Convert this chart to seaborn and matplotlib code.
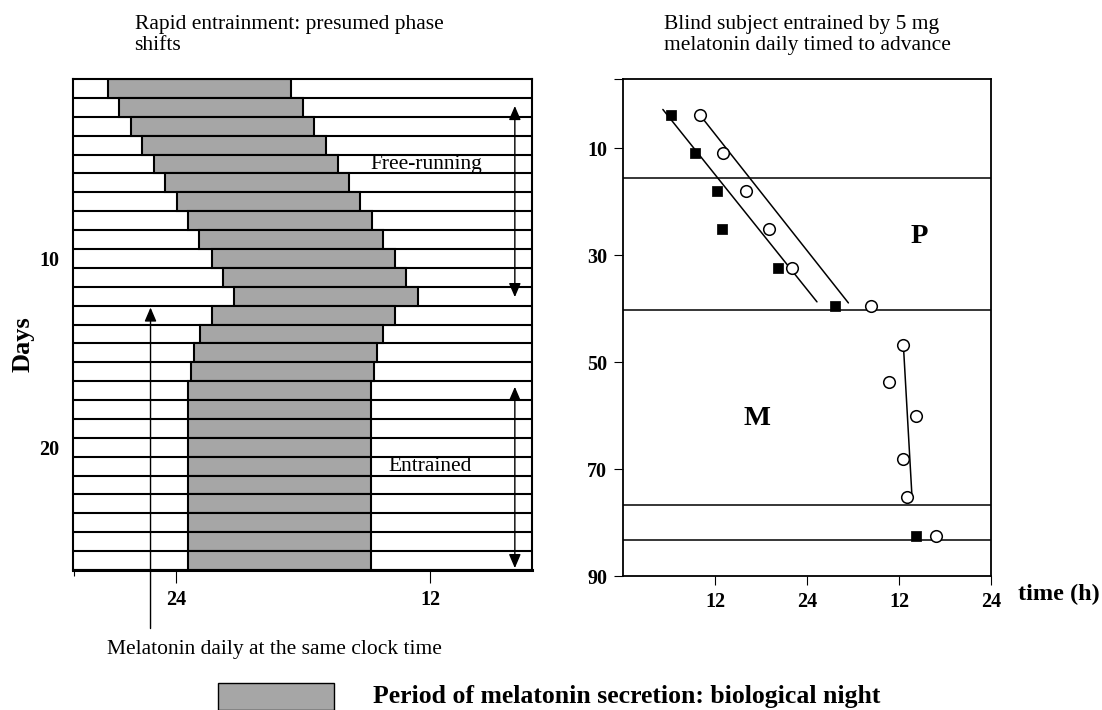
import numpy as np
import pandas as pd
import matplotlib.pyplot as plt
import seaborn as sns
from matplotlib.patches import Rectangle

sns.set_theme(style="white")
plt.rcParams['font.family'] = ['Liberation Serif', 'DejaVu Serif']
plt.rcParams['text.color'] = 'black'
plt.rcParams['axes.labelcolor'] = 'black'
plt.rcParams['xtick.color'] = 'black'
plt.rcParams['ytick.color'] = 'black'

# --- painel esquerdo: inicio/fim da secrecao de melatonina (hora do relogio) por dia
dias = list(range(1, 27))
inicio = [27.22, 26.67, 26.12, 25.58, 25.04, 24.50, 23.95, 23.42, 22.89, 22.31, 21.79, 21.25,
          22.31, 22.87, 23.16, 23.29, 23.45, 23.45, 23.45, 23.45, 23.45, 23.45, 23.45, 23.45,
          23.45, 23.45]
fim = [18.55, 18.00, 17.47, 16.93, 16.37, 15.83, 15.29, 14.74, 14.22, 13.66, 13.12, 12.58,
       13.68, 14.22, 14.49, 14.64, 14.80, 14.80, 14.80, 14.80, 14.80, 14.80, 14.80, 14.80,
       14.80, 14.80]
ticks_esq = [24, 12]
dias_rotulo = [10, 20]

# --- painel direito: sujeito cego
dia_quad = [3.8, 10.8, 18.0, 25.1, 32.4, 39.5, 82.6]
hora_quad = [6.2, 9.4, 12.3, 12.9, 20.2, 27.7, 38.2]
dia_circ = [3.8, 10.8, 18.0, 25.1, 32.4, 39.5, 46.7, 53.7, 60.0, 68.2, 75.3, 82.6]
hora_circ = [10.1, 13.1, 16.1, 19.0, 22.0, 32.3, 36.5, 34.7, 38.2, 36.5, 37.1, 40.8]
# retas ajustadas (extremos)
reta_quad = pd.DataFrame({"hora": [5.2, 25.3], "dia": [2.7, 38.7]})
reta_circ = pd.DataFrame({"hora": [10.4, 29.4], "dia": [4.4, 38.9]})
reta_m = pd.DataFrame({"hora": [36.6, 37.7], "dia": [47.5, 75.3]})
limites = [15.6, 40.2, 76.8, 83.3]
ticks_dir = [12, 24, 36, 48]
rotulos_dir = ["12", "24", "12", "24"]
ticks_dia = [10, 30, 50, 70, 90]

cinza = "#a6a6a6"
W, H = 1102, 710
fig = plt.figure(figsize=(W / 100, H / 100), dpi=100)

# ---------------- painel esquerdo
ax1 = fig.add_axes([73 / W, 1 - 570 / H, 459 / W, 491 / H])
ax1.set_xlim(28.86, 7.19)
ax1.set_ylim(26.5, 0.5)
for d in dias:
    ax1.axhline(d + 0.5, color="black", lw=1.5, zorder=1)
ax1.barh(dias, width=np.subtract(inicio, fim), left=fim, height=1.0,
         color=cinza, edgecolor="black", linewidth=1.5, zorder=2)
ax1.set_xticks(ticks_esq)
ax1.set_xticklabels([str(t) for t in ticks_esq], fontweight="bold", fontsize=14.5)
ax1.set_xticks([28.8], minor=True)
ax1.set_yticks(dias_rotulo)
ax1.set_yticklabels([str(d) for d in dias_rotulo], fontweight="bold", fontsize=14.5)
ax1.tick_params(axis="x", which="major", bottom=True, length=9.5, width=0.8, pad=5)
ax1.tick_params(axis="x", which="minor", bottom=True, length=4, width=0.8)
ax1.tick_params(axis="y", left=False, length=0, pad=10)
for s in ax1.spines.values():
    s.set_color("black")
    s.set_linewidth(1.5)
ax1.spines["bottom"].set_linewidth(2.2)

seta = dict(arrowstyle="<|-|>,head_length=0.7,head_width=0.3", color="black",
            lw=1.0, shrinkA=0, shrinkB=0, mutation_scale=12)
ax1.annotate("", xy=(8.0, 1.93), xytext=(8.0, 12.05), arrowprops=seta, zorder=4)
ax1.annotate("", xy=(8.0, 16.8), xytext=(8.0, 26.4), arrowprops=seta, zorder=4)
ax1.annotate("", xy=(25.2, 12.6), xytext=(25.2, 29.6), annotation_clip=False, zorder=4,
             arrowprops=dict(arrowstyle="-|>,head_length=0.7,head_width=0.3", color="black",
                             lw=1.0, shrinkA=0, shrinkB=0, mutation_scale=12))
ax1.text(12.2, 5.05, "Free-running", ha="center", va="center", fontsize=15.5, zorder=5)
ax1.text(12.0, 21.0, "Entrained", ha="center", va="center", fontsize=15.5, zorder=5)

# ---------------- painel direito
ax2 = fig.add_axes([623 / W, 1 - 576 / H, 368 / W, 497 / H])
ax2.set_xlim(0, 48)
ax2.set_ylim(90, -3)
for y in limites:
    ax2.axhline(y, color="black", lw=1.1, zorder=1)
sns.lineplot(data=reta_quad, x="hora", y="dia", color="black", lw=1.1, sort=False, ax=ax2)
sns.lineplot(data=reta_circ, x="hora", y="dia", color="black", lw=1.1, sort=False, ax=ax2)
sns.lineplot(data=reta_m, x="hora", y="dia", color="black", lw=1.1, sort=False, ax=ax2)
sns.scatterplot(x=hora_quad, y=dia_quad, marker="s", s=42, color="black",
                edgecolor="black", zorder=3, ax=ax2)
sns.scatterplot(x=hora_circ, y=dia_circ, marker="o", s=70, color="white",
                edgecolor="black", linewidth=1.1, zorder=3, ax=ax2)
ax2.set_xlabel("")
ax2.set_ylabel("")
ax2.set_xticks(ticks_dir)
ax2.set_xticklabels(rotulos_dir, fontweight="bold", fontsize=14.5)
ax2.set_yticks(ticks_dia)
ax2.set_yticklabels([str(t) for t in ticks_dia], fontweight="bold", fontsize=14.5)
ax2.set_yticks([-3], minor=True)
ax2.tick_params(axis="both", which="major", bottom=True, left=True, length=6.5, width=0.8, pad=5)
ax2.tick_params(axis="y", which="minor", left=True, length=6.5, width=0.8)
for s in ax2.spines.values():
    s.set_color("black")
    s.set_linewidth(1.3)
ax2.text(38.6, 26.5, "P", ha="center", va="center", fontweight="bold", fontsize=20.5)
ax2.text(17.5, 60.6, "M", ha="center", va="center", fontweight="bold", fontsize=20.5)

# ---------------- textos da figura
fig.text(23 / W, 1 - 344 / H, "Days", rotation=90, ha="center", va="center",
         fontweight="bold", fontsize=19)
fig.text(134.6 / W, 1 - 14.5 / H, "Rapid entrainment: presumed phase\nshifts",
         ha="left", va="top", fontsize=15.5, linespacing=1.15)
fig.text(663.5 / W, 1 - 14.5 / H, "Blind subject entrained by 5 mg\nmelatonin daily timed to advance",
         ha="left", va="top", fontsize=15.5, linespacing=1.15)
fig.text(107 / W, 1 - 654 / H, "Melatonin daily at the same clock time",
         ha="left", va="baseline", fontsize=15.5)
fig.text(1018 / W, 1 - 600 / H, "time (h)", ha="left", va="baseline",
         fontweight="bold", fontsize=17.5)

# legenda
fig.patches.append(Rectangle((218 / W, 0), 116 / W, 27 / H, transform=fig.transFigure,
                             facecolor=cinza, edgecolor="black", linewidth=1.0))
fig.text(373 / W, 1 - 703 / H, "Period of melatonin secretion: biological night",
         ha="left", va="baseline", fontweight="bold", fontsize=18.5)

fig.savefig("out.png", dpi=100)
